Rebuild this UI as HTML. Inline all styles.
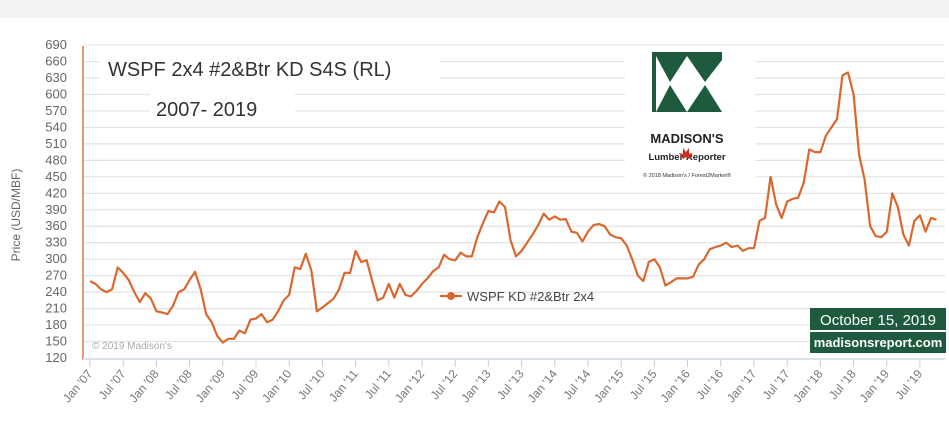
<!DOCTYPE html>
<html><head><style>
body{margin:0;background:#fff;}
svg text{font-family:"Liberation Sans",sans-serif;}
</style></head><body>
<svg width="949" height="435" xmlns="http://www.w3.org/2000/svg">
<rect width="949" height="435" fill="#fff"/>
<rect width="949" height="18" fill="#f3f3f3"/>
<g id="grid" stroke="#e2e2e2" stroke-width="1.2"></g>
<g id="ylab" font-size="13" fill="#666" text-anchor="end"></g>
<line x1="83" y1="46" x2="83" y2="360" stroke="#d9793f" stroke-width="1.5"/>
<line x1="83" y1="359" x2="945" y2="359" stroke="#dde3ea" stroke-width="2"/>
<g id="xt" stroke="#c8d0dc"></g>
<g id="xl" font-size="12" fill="#777"></g>
<text x="20" y="215" font-size="12" fill="#666" transform="rotate(-90 20 215)" text-anchor="middle">Price (USD/MBF)</text>
<rect x="100" y="52" width="340" height="30" fill="#fff"/>
<text x="108" y="76" font-size="20" fill="#333">WSPF 2x4 #2&amp;Btr KD S4S (RL)</text>
<rect x="150" y="92" width="145" height="30" fill="#fff"/>
<text x="156" y="116" font-size="20" fill="#333">2007- 2019</text>
<rect x="625" y="50" width="130" height="135" fill="#fff"/>
<g fill="#1e5b3e">
<rect x="652" y="52" width="70" height="4"/>
<rect x="652" y="52" width="4" height="60"/>
<polygon points="656,56 687,56 670,82"/>
<polygon points="687,56 722,56 722,60 705,82"/>
<polygon points="656,112 670,85 687,112"/>
<polygon points="687,112 705,85 722,112"/>
</g>
<text x="687" y="143" font-size="13" font-weight="bold" fill="#222" text-anchor="middle">MADISON'S</text>
<text x="687" y="160" font-size="9.5" font-weight="bold" fill="#222" text-anchor="middle">Lumber  Reporter</text>
<path d="M683,148 l3,4 3,-4 0,6 4,-1 -4,6 -3,-2 -3,2 -4,-6 4,1z" fill="#c8302a"/>
<text x="687" y="177" font-size="5.5" fill="#333" text-anchor="middle">© 2018 Madison's / Forest2Market®</text>
<polyline id="ser" fill="none" stroke="#d9682e" stroke-width="2.2" stroke-linejoin="round"/>
<line x1="440" y1="296" x2="462" y2="296" stroke="#d9682e" stroke-width="2.2"/>
<circle cx="451" cy="296" r="4" fill="#d9682e"/>
<text x="467" y="301" font-size="13" fill="#444">WSPF KD #2&amp;Btr 2x4</text>
<text x="92" y="349" font-size="10" fill="#aaa">© 2019 Madison's</text>
<rect x="810" y="308" width="136" height="22" fill="#1e5b3e"/>
<text x="878" y="325" font-size="15" fill="#fff" text-anchor="middle" font-family="Liberation Serif">October 15, 2019</text>
<rect x="810" y="332" width="136" height="21" fill="#1e5b3e"/>
<text x="878" y="347" font-size="13" font-weight="bold" fill="#fff" text-anchor="middle">madisonsreport.com</text>
</svg>
<script>
const Y=v=>358-(v-120)*16.47/30, X=m=>90+m*5.533;
let g='',yl='';
for(let v=120;v<=690;v+=30){const y=Y(v);if(v>120)g+=`<line x1="84" y1="${y}" x2="945" y2="${y}"/>`;yl+=`<text x="67" y="${y+4}">${v}</text>`;}
document.getElementById('grid').innerHTML=g;document.getElementById('ylab').innerHTML=yl;
let xt='',xl='';
for(let i=0;i<26;i++){const x=X(i*6);const yr=String(7+Math.floor(i/2)).padStart(2,'0');const lab=(i%2?'Jul':'Jan')+" '"+yr;
xt+=`<line x1="${x}" y1="360" x2="${x}" y2="367"/>`;xl+=`<text x="${x+3}" y="374" text-anchor="end" transform="rotate(-50 ${x+3} 374)">${lab}</text>`;}
document.getElementById('xt').innerHTML=xt;document.getElementById('xl').innerHTML=xl;
const d=[260,255,245,240,245,285,275,262,240,222,238,228,205,203,200,215,240,245,262,277,245,200,185,160,148,155,155,170,165,190,192,200,185,190,205,225,235,285,282,310,280,205,212,220,228,245,275,275,315,295,298,260,225,230,255,230,255,235,232,242,255,265,278,285,308,300,298,312,305,305,340,365,388,385,405,395,335,305,315,330,345,362,383,372,378,372,373,350,348,332,350,362,364,360,345,340,338,325,300,270,260,295,300,285,252,258,265,265,265,268,290,300,318,322,325,330,322,325,315,320,320,370,375,450,400,375,405,410,412,440,500,495,495,525,540,555,635,640,600,490,445,360,342,340,350,420,395,345,325,370,380,350,375,372];
document.getElementById('ser').setAttribute('points',d.map((v,i)=>X(i).toFixed(1)+','+Y(v).toFixed(1)).join(' '));
</script>
</body></html>
